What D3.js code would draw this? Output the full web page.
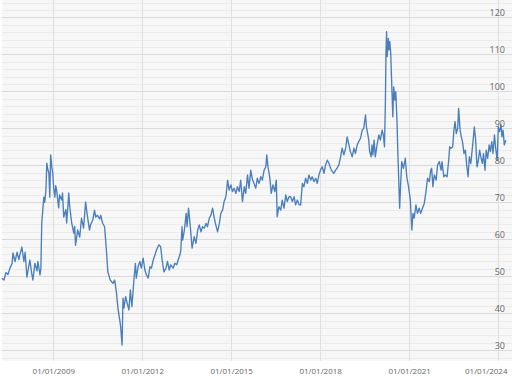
<!DOCTYPE html>
<html><head><meta charset="utf-8">
<script src="https://cdn.jsdelivr.net/npm/d3@7"></script>
<style>html,body{margin:0;padding:0;background:#fff;}svg{display:block;}</style>
</head><body><svg id="c" width="512" height="379"></svg>
<script>
// time in decimal years
const times = [2007.27,2007.34,2007.40,2007.47,2007.54,2007.61,2007.64,2007.71,2007.78,2007.84,2007.88,2007.94,2008.01,2008.05,2008.11,2008.18,2008.21,2008.28,2008.31,2008.38,2008.45,2008.48,2008.55,2008.58,2008.61,2008.68,2008.71,2008.75,2008.78,2008.81,2008.85,2008.88,2008.91,2008.95,2008.98,2009.01,2009.05,2009.08,2009.11,2009.15,2009.18,2009.21,2009.28,2009.31,2009.35,2009.42,2009.45,2009.52,2009.55,2009.62,2009.69,2009.72,2009.75,2009.82,2009.89,2009.95,2010.02,2010.09,2010.12,2010.16,2010.22,2010.26,2010.33,2010.39,2010.43,2010.49,2010.56,2010.60,2010.66,2010.73,2010.79,2010.84,2010.92,2011.01,2011.07,2011.13,2011.18,2011.24,2011.27,2011.32,2011.35,2011.38,2011.44,2011.49,2011.55,2011.60,2011.65,2011.72,2011.77,2011.80,2011.86,2011.92,2011.97,2012.03,2012.09,2012.14,2012.20,2012.26,2012.31,2012.37,2012.43,2012.48,2012.56,2012.62,2012.67,2012.73,2012.80,2012.85,2012.91,2012.96,2013.04,2013.10,2013.16,2013.21,2013.27,2013.30,2013.34,2013.36,2013.42,2013.48,2013.51,2013.56,2013.62,2013.68,2013.75,2013.81,2013.87,2013.92,2013.98,2014.03,2014.09,2014.15,2014.20,2014.26,2014.32,2014.37,2014.43,2014.48,2014.54,2014.60,2014.65,2014.71,2014.76,2014.82,2014.88,2014.93,2014.99,2015.04,2015.10,2015.16,2015.21,2015.27,2015.32,2015.38,2015.44,2015.49,2015.55,2015.60,2015.66,2015.72,2015.77,2015.83,2015.88,2015.94,2016.00,2016.05,2016.11,2016.17,2016.20,2016.24,2016.28,2016.31,2016.35,2016.41,2016.47,2016.52,2016.55,2016.61,2016.67,2016.72,2016.78,2016.84,2016.89,2016.95,2017.00,2017.06,2017.12,2017.17,2017.23,2017.29,2017.34,2017.40,2017.45,2017.51,2017.57,2017.62,2017.68,2017.73,2017.79,2017.85,2017.90,2017.96,2018.01,2018.07,2018.13,2018.18,2018.24,2018.30,2018.35,2018.41,2018.46,2018.52,2018.57,2018.63,2018.69,2018.74,2018.80,2018.86,2018.91,2018.97,2019.02,2019.08,2019.14,2019.19,2019.25,2019.30,2019.36,2019.42,2019.47,2019.53,2019.56,2019.61,2019.64,2019.67,2019.72,2019.75,2019.78,2019.82,2019.86,2019.92,2019.98,2020.03,2020.09,2020.13,2020.17,2020.20,2020.22,2020.24,2020.26,2020.30,2020.32,2020.35,2020.38,2020.42,2020.45,2020.48,2020.52,2020.55,2020.59,2020.62,2020.65,2020.68,2020.71,2020.75,2020.81,2020.87,2020.92,2020.98,2021.04,2021.09,2021.13,2021.17,2021.23,2021.28,2021.34,2021.39,2021.45,2021.51,2021.56,2021.62,2021.68,2021.73,2021.76,2021.80,2021.85,2021.91,2021.96,2022.02,2022.08,2022.11,2022.17,2022.22,2022.28,2022.33,2022.37,2022.41,2022.47,2022.51,2022.55,2022.59,2022.64,2022.67,2022.72,2022.76,2022.80,2022.85,2022.90,2022.94,2022.99,2023.03,2023.08,2023.11,2023.16,2023.20,2023.24,2023.29,2023.33,2023.38,2023.42,2023.47,2023.51,2023.56,2023.60,2023.65,2023.70,2023.74,2023.79,2023.83,2023.88,2023.92,2023.97,2024.01,2024.05,2024.10,2024.13,2024.17,2024.21,2024.26];
const values = [49.5,49.0,51.0,50.5,52.2,53.5,56.3,54.0,56.5,54.5,56.0,57.9,54.0,56.5,49.8,53.0,54.4,50.4,49.0,53.5,51.5,54.0,50.4,52.0,64.4,71.4,70.0,73.3,80.6,79.0,77.9,71.4,82.8,79.5,77.9,74.0,71.4,74.5,73.3,70.5,68.5,72.0,70.6,72.5,66.0,68.0,64.4,72.5,69.0,64.4,61.7,63.5,58.4,62.5,60.6,65.7,63.0,70.1,68.0,65.7,62.5,64.0,65.2,67.9,66.0,66.5,65.5,66.5,64.4,63.4,57.1,51.2,49.0,48.1,49.0,45.5,41.4,38.2,36.5,31.4,44.1,41.4,44.5,42.8,40.9,46.3,41.8,49.0,53.5,49.5,52.6,54.0,52.2,54.9,51.7,50.4,49.5,52.6,52.2,54.4,55.8,57.1,58.5,58.0,54.4,51.2,52.2,54.0,51.7,53.1,52.2,53.5,53.1,54.4,55.8,57.1,63.4,59.8,62.5,67.0,63.4,68.4,63.4,57.6,60.7,58.9,62.5,63.9,62.0,63.4,63.0,64.3,63.4,65.7,66.6,68.4,65.7,63.9,62.0,64.3,67.0,67.9,70.2,71.5,76.0,73.3,74.7,72.9,73.8,72.4,74.2,72.9,76.0,70.2,74.2,72.4,77.4,73.8,78.7,76.0,75.1,73.8,76.5,75.1,76.9,76.0,78.7,79.6,82.8,79.6,77.8,76.0,72.4,74.7,72.9,76.0,66.1,68.8,67.9,70.6,68.4,72.0,70.2,71.5,71.5,70.2,71.5,69.3,70.6,69.3,69.3,75.1,74.2,76.5,75.1,77.4,76.0,76.9,75.6,76.5,75.1,77.4,78.7,79.6,77.8,80.1,81.4,80.5,79.2,78.3,77.8,78.7,79.2,80.1,82.3,84.6,82.8,84.6,87.7,85.5,83.7,82.3,84.6,83.2,85.5,86.4,87.3,89.5,90.0,93.6,90.4,88.2,86.8,83.7,82.3,85.5,82.8,86.8,82.3,85.5,88.2,86.8,89.5,88.2,85.0,96.8,110.3,116.1,109.4,114.3,111.2,113.4,110.3,100.4,93.1,101.2,97.6,99.9,92.2,83.2,76.0,68.4,74.2,81.0,79.2,81.9,76.9,74.2,70.6,62.5,67.0,65.7,69.3,67.0,68.4,67.0,68.4,69.7,72.4,76.5,75.6,78.7,79.2,74.2,77.4,76.0,80.1,81.0,78.7,81.0,76.9,77.4,76.9,81.0,85.0,84.6,85.0,89.5,91.8,88.6,90.0,95.4,89.5,87.7,86.4,83.2,84.1,80.1,76.9,82.3,80.5,82.8,86.8,90.4,87.3,79.6,81.0,84.1,82.3,80.5,83.2,78.7,84.1,81.9,85.5,83.7,86.4,83.2,88.2,84.6,81.4,90.4,89.1,90.9,87.7,89.5,85.5,86.8];
const xTickYears = [2009,2012,2015,2018,2021,2024];
const yMajorTicks = [30,40,50,60,70,80,90,100,110,120];

function toDate(y){const yr=Math.floor(y);const s=new Date(yr,0,1),e=new Date(yr+1,0,1);return new Date(+s+(y-yr)*(e-s));}
const data = times.map((t,i)=>({date:toDate(t),value:values[i]}));

const svg = d3.select('#c');
const L=2,R=512,T=0,B=361;
const x = d3.scaleTime().domain([toDate(2007.27),toDate(2024.47)]).range([L,R]);
const y = d3.scaleLinear().domain([27.1,124.68]).range([B,T]);

svg.append('rect').attr('x',L).attr('y',T).attr('width',R-L).attr('height',B-T).attr('fill','#f7f7f7');

// minor grid
const minor = d3.range(28,125,2).filter(v=>v%10!==0);
svg.append('g').selectAll('line').data(minor).join('line')
  .attr('x1',L).attr('x2',R).attr('y1',d=>Math.round(y(d))+0.5).attr('y2',d=>Math.round(y(d))+0.5)
  .attr('stroke','#ebebeb').attr('stroke-width',1);
// major grid
svg.append('g').selectAll('line').data(yMajorTicks).join('line')
  .attr('x1',L).attr('x2',R).attr('y1',d=>Math.round(y(d))+0.5).attr('y2',d=>Math.round(y(d))+0.5)
  .attr('stroke','#dadada').attr('stroke-width',1);
// vertical grid
const xTicks = xTickYears.map(yy=>new Date(yy,0,1));
svg.append('g').selectAll('line').data(xTicks).join('line')
  .attr('x1',d=>Math.round(x(d))+0.5).attr('x2',d=>Math.round(x(d))+0.5).attr('y1',T).attr('y2',B)
  .attr('stroke','#e0e0e0').attr('stroke-width',1);

// line
svg.append('path').datum(data)
  .attr('d',d3.line().x(d=>x(d.date)).y(d=>y(d.value)))
  .attr('fill','none').attr('stroke','#4a7fbd').attr('stroke-width',1.35).attr('stroke-linejoin','round');

// y labels
const yAxis = d3.axisLeft(y).tickValues(yMajorTicks).tickSize(0).tickPadding(0);
const gy = svg.append('g').attr('transform','translate(505,-4.5)').call(yAxis);
gy.select('.domain').remove();
gy.selectAll('text').attr('fill','#666').attr('font-family','Open Sans').attr('font-size','9px');

// x labels
const fmt = d3.timeFormat('%d/%m/%Y');
const xAxis = d3.axisBottom(x).tickValues(xTicks).tickFormat(fmt).tickSize(0).tickPadding(0);
const gx = svg.append('g').attr('transform','translate(0,368)').call(xAxis);
gx.select('.domain').remove();
gx.selectAll('text').attr('fill','#666').attr('font-family','Open Sans').attr('font-size','8px');
// last label is kept inside the frame, right-aligned
gx.selectAll('.tick').filter((d,i,n)=>i===n.length-1).select('text')
  .attr('text-anchor','end').attr('x',507-x(xTicks[xTicks.length-1]));
</script></body></html>
